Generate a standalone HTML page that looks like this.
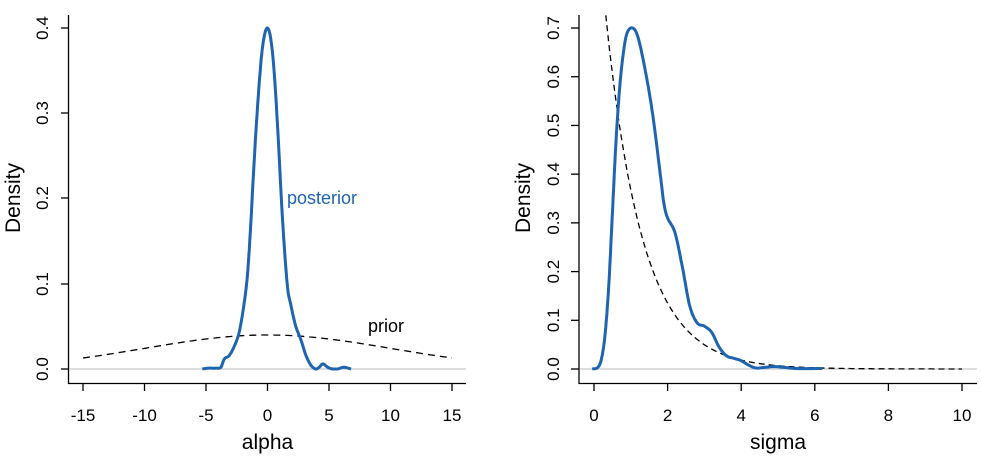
<!DOCTYPE html>
<html><head><style>body{margin:0;background:#fff}svg text{font-family:"Liberation Sans",sans-serif}</style></head>
<body>
<svg id="s" width="981" height="455" xmlns="http://www.w3.org/2000/svg">
<g font-size="17" fill="#000">
<path d="M68.5,15V383.5H466" stroke="#000" stroke-width="1.3" fill="none"/>
<line x1="69" y1="369" x2="466" y2="369" stroke="#bbb" stroke-width="1"/>
<g stroke="#000" stroke-width="1.3">
<line x1="61" y1="369" x2="68.5" y2="369"/><line x1="61" y1="284" x2="68.5" y2="284"/><line x1="61" y1="198" x2="68.5" y2="198"/><line x1="61" y1="113" x2="68.5" y2="113"/><line x1="61" y1="28" x2="68.5" y2="28"/>
<line x1="83" y1="383.5" x2="83" y2="391"/><line x1="144.5" y1="383.5" x2="144.5" y2="391"/><line x1="206" y1="383.5" x2="206" y2="391"/><line x1="267.5" y1="383.5" x2="267.5" y2="391"/><line x1="329" y1="383.5" x2="329" y2="391"/><line x1="390.5" y1="383.5" x2="390.5" y2="391"/><line x1="452" y1="383.5" x2="452" y2="391"/>
</g>
<g text-anchor="middle">
<text transform="translate(48,369) rotate(-90)">0.0</text>
<text transform="translate(48,284) rotate(-90)">0.1</text>
<text transform="translate(48,198) rotate(-90)">0.2</text>
<text transform="translate(48,113) rotate(-90)">0.3</text>
<text transform="translate(48,28) rotate(-90)">0.4</text>
<text x="83" y="421">-15</text><text x="144.5" y="421">-10</text><text x="206" y="421">-5</text><text x="267.5" y="421">0</text><text x="329" y="421">5</text><text x="390.5" y="421">10</text><text x="452" y="421">15</text>
<text x="267.5" y="449" font-size="21">alpha</text>
<text transform="translate(20,198) rotate(-90)" font-size="21">Density</text>
</g>
<text x="287" y="204" font-size="18" fill="#1f64b0">posterior</text>
<text x="368" y="332" font-size="18">prior</text>

<path d="M579,15V383.5H977" stroke="#000" stroke-width="1.3" fill="none"/>
<line x1="580" y1="369" x2="977" y2="369" stroke="#bbb" stroke-width="1"/>
<g stroke="#000" stroke-width="1.3" id="rt"></g>
<g text-anchor="middle" id="rl"></g>
<g text-anchor="middle">
<text x="778" y="449" font-size="21">sigma</text>
<text transform="translate(530,198) rotate(-90)" font-size="21">Density</text>
</g>
</g>
<g id="curves"></g>
</svg>
<script>
var NS="http://www.w3.org/2000/svg";
function el(p,t,a,txt){var e=document.createElementNS(NS,t);for(var k in a)e.setAttribute(k,a[k]);if(txt)e.textContent=txt;p.appendChild(e);return e;}
var rt=document.getElementById('rt'),rl=document.getElementById('rl'),cv=document.getElementById('curves');
for(var i=0;i<=7;i++){var y=369-i*48.71;el(rt,'line',{x1:571,y1:y,x2:579,y2:y});el(rl,'text',{transform:'translate(559,'+y+') rotate(-90)'},(i/10).toFixed(1));}
for(var i=0;i<=10;i+=2){var x=594+i*36.8;el(rt,'line',{x1:x,y1:383.5,x2:x,y2:391});el(rl,'text',{x:x,y:421},String(i));}
function spline(pts,fx,fy){var d='M'+fx(pts[0][0])+','+fy(pts[0][1]);for(var i=0;i<pts.length-1;i++){var p0=pts[Math.max(0,i-1)],p1=pts[i],p2=pts[i+1],p3=pts[Math.min(pts.length-1,i+2)];
for(var t=0.1;t<=1.001;t+=0.1){var t2=t*t,t3=t2*t;function c(a,b,cc,dd){return 0.5*(2*b+(-a+cc)*t+(2*a-5*b+4*cc-dd)*t2+(-a+3*b-3*cc+dd)*t3);}
d+='L'+fx(c(p0[0],p1[0],p2[0],p3[0])).toFixed(1)+','+fy(Math.max(0,c(p0[1],p1[1],p2[1],p3[1]))).toFixed(1);}}return d;}
function fn(f,a,b,fx,fy){var d='';for(var i=0;i<=200;i++){var x=a+(b-a)*i/200;d+=(i?'L':'M')+fx(x).toFixed(1)+','+fy(f(x)).toFixed(1);}return d;}
var ax=function(x){return 267.5+12.3*x},ay=function(y){return 369-852.5*y};
var sx=function(x){return 594+36.8*x},sy=function(y){return 369-487.1*y};
el(cv,'path',{d:fn(function(x){return Math.exp(-x*x/200)/(10*Math.sqrt(2*Math.PI))},-15,15,ax,ay),stroke:'#000','stroke-width':1.3,fill:'none','stroke-dasharray':'7,5'});
el(cv,'path',{d:fn(function(x){return Math.exp(-x)},0.32,10,sx,sy),stroke:'#000','stroke-width':1.3,fill:'none','stroke-dasharray':'6,4'});
var ap=[[-5.3,0],[-4.8,0.001],[-4.2,0.001],[-3.8,0.002],[-3.5,0.012],[-3.1,0.016],[-2.6,0.03],[-2.2,0.05],[-1.7,0.1],[-1.4,0.16],[-1.1,0.24],[-0.75,0.32],[-0.4,0.378],[0,0.40],[0.4,0.372],[0.8,0.29],[1.2,0.18],[1.6,0.1],[1.9,0.075],[2.3,0.05],[2.7,0.035],[3.1,0.017],[3.5,0.005],[3.9,0.0],[4.2,0.002],[4.5,0.006],[4.9,0.002],[5.3,0],[5.7,0],[6.2,0.002],[6.8,0]];
var sp=[[-0.05,0],[0.1,0.003],[0.2,0.02],[0.3,0.07],[0.4,0.17],[0.5,0.32],[0.6,0.47],[0.7,0.58],[0.8,0.65],[0.9,0.69],[1.05,0.70],[1.2,0.68],[1.4,0.61],[1.6,0.52],[1.8,0.40],[1.9,0.34],[2.0,0.31],[2.2,0.28],[2.4,0.21],[2.6,0.13],[2.8,0.095],[3.0,0.088],[3.2,0.075],[3.4,0.045],[3.6,0.027],[3.8,0.022],[4.0,0.017],[4.2,0.008],[4.4,0.002],[4.6,0.003],[4.9,0.005],[5.2,0.003],[5.5,0.001],[6.2,0.001]];
el(cv,'path',{d:spline(ap,ax,ay),stroke:'#1f64b0','stroke-width':3,fill:'none','stroke-linejoin':'round'});
el(cv,'path',{d:spline(sp,sx,sy),stroke:'#1f64b0','stroke-width':3,fill:'none','stroke-linejoin':'round'});
</script>
</body></html>
